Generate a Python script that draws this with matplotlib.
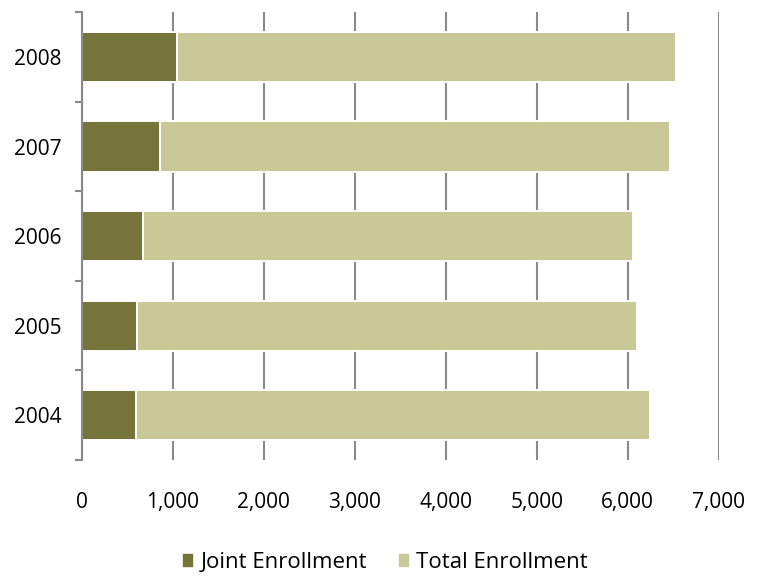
import matplotlib.pyplot as plt
from matplotlib.patches import Patch

years = ["2004", "2005", "2006", "2007", "2008"]
joint = [595, 600, 675, 860, 1040]
total = [6245, 6100, 6060, 6460, 6530]
xticks = [0, 1000, 2000, 3000, 4000, 5000, 6000, 7000]

JOINT_COLOR = "#76743a"
TOTAL_COLOR = "#c9c897"
GRID_COLOR = "#8a8a8a"

plt.rcParams["font.family"] = ["Open Sans", "DejaVu Sans"]

fig = plt.figure(figsize=(7.59, 5.78), dpi=100)
ax = fig.add_axes([0.108, 0.204, 0.839, 0.775])

# white outlines leave a small gap where the gridlines meet the bars
pos = list(range(len(years)))
ax.barh(pos, total, height=0.56, color=TOTAL_COLOR, edgecolor="white",
        linewidth=1.4, zorder=2)
ax.barh(pos, joint, height=0.56, color=JOINT_COLOR, edgecolor="white",
        linewidth=1.4, zorder=3)

ax.set_xlim(0, 7000)
ax.set_ylim(-0.5, len(years) - 0.5)
ax.set_xticks(xticks)
ax.set_xticklabels([f"{v:,}" for v in xticks])
ax.set_yticks(pos)
ax.set_yticklabels(years)
ax.set_yticks([p - 0.5 for p in range(len(years) + 1)], minor=True)

ax.tick_params(axis="x", length=0, pad=23, labelsize=15)
ax.tick_params(axis="y", which="major", length=0, pad=15, labelsize=15)
ax.tick_params(axis="y", which="minor", length=5, width=1.5, color=GRID_COLOR)

for side in ["top", "right", "bottom"]:
    ax.spines[side].set_visible(False)
ax.spines["left"].set_color(GRID_COLOR)
ax.spines["left"].set_linewidth(1.5)
ax.spines["left"].set_zorder(4)

ax.xaxis.grid(True, color=GRID_COLOR, linewidth=1.5, zorder=1)
ax.set_axisbelow(True)

handles = [Patch(color=JOINT_COLOR, label="Joint Enrollment"),
           Patch(color=TOTAL_COLOR, label="Total Enrollment")]
fig.legend(handles=handles, loc="center", bbox_to_anchor=(0.508, 0.027),
           ncol=2, frameon=False, fontsize=16, handlelength=0.42,
           handleheight=0.42, handletextpad=0.36, columnspacing=1.45,
           borderpad=0, borderaxespad=0)

fig.savefig("out.png", dpi=100)
